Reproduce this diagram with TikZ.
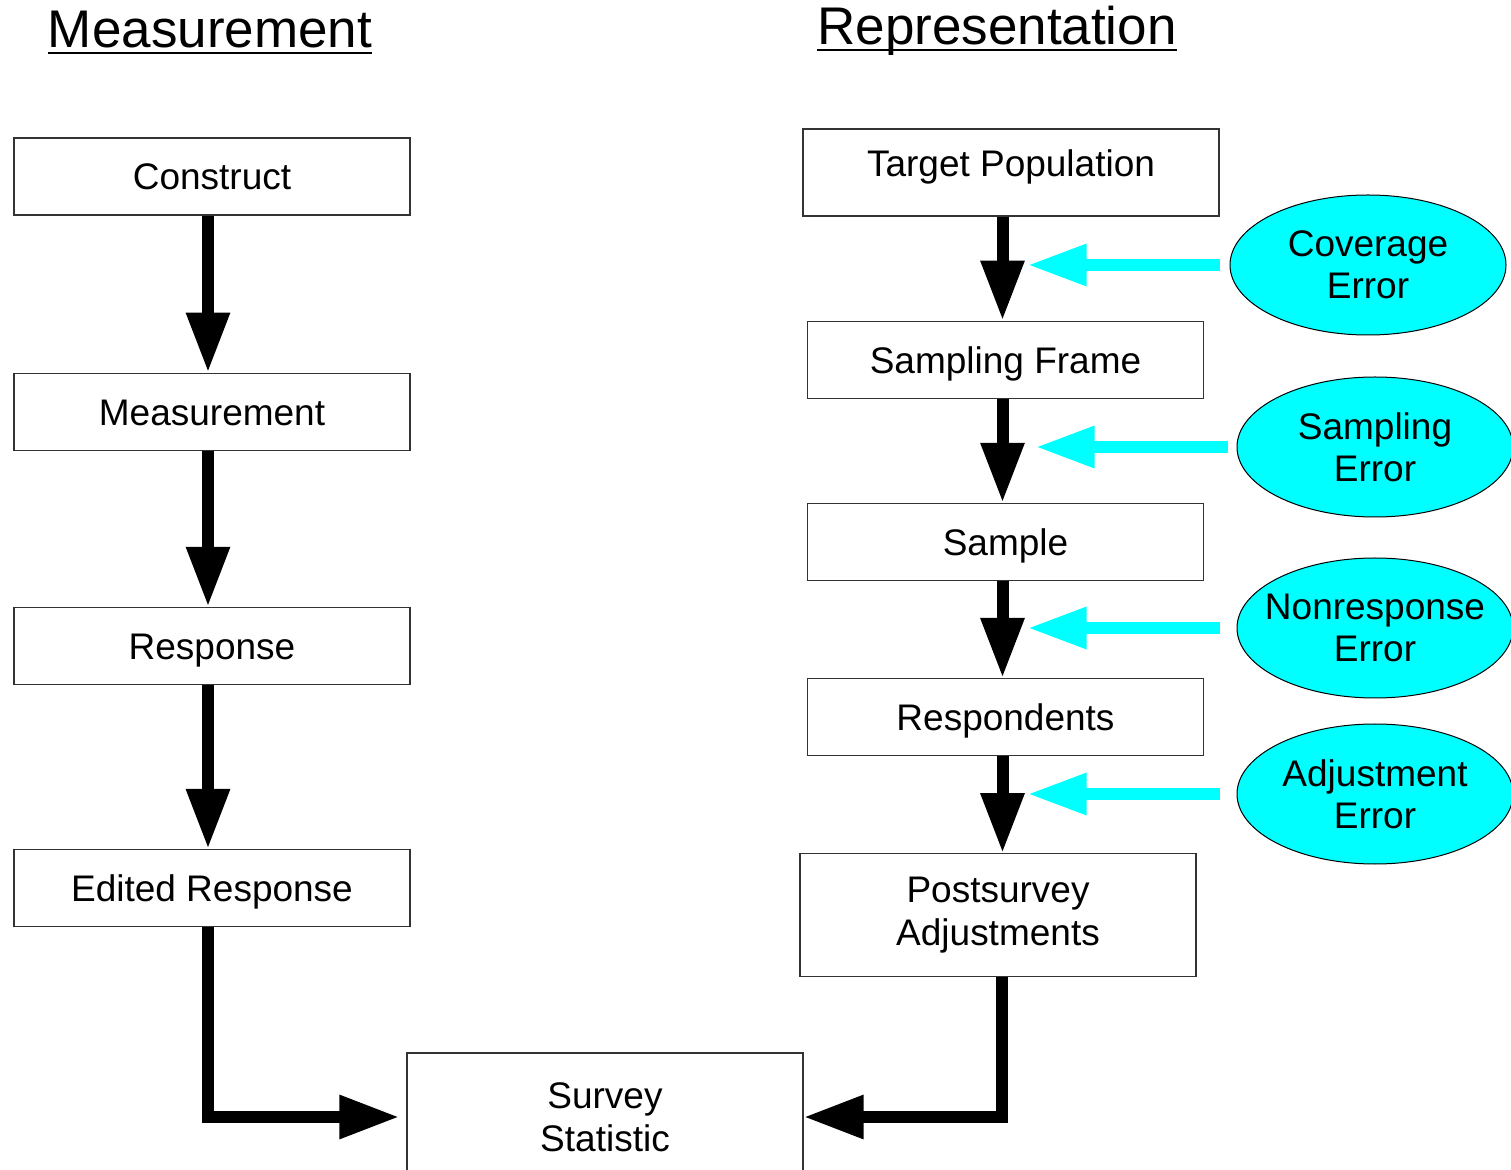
\documentclass[tikz,border=0pt]{standalone}
\usepackage{fontspec}
\setmainfont{Liberation Sans}
\usetikzlibrary{arrows.meta,shapes.geometric,positioning}
\definecolor{errcyan}{RGB}{0,255,255}
\newcommand\titleul[1]{\setbox0\hbox{#1}\rlap{\rule[-3.2pt]{\wd0}{1.3pt}}\box0}

\begin{document}
\begin{tikzpicture}[x=0.5pt,
            y=-0.5pt,
            box/.style={draw=black!80, line width=0.6pt, minimum width=198pt,
                        minimum height=38.5pt, inner sep=0pt, align=center,
                        font=\fontsize{18.5}{21.5}\selectfont},
            oneline/.style={text height=13.5pt, text depth=0pt},
            err/.style={ellipse, draw, line width=0.5pt, fill=errcyan,
                        inner xsep=-15pt, inner ysep=0pt,
                        minimum width=138pt, minimum height=70pt, align=center,
                        font=\fontsize{18.5}{21}\selectfont},
            flow/.style={line width=6pt, -{Triangle[length=30pt,width=20.5pt]}},
            errflow/.style={errcyan, line width=6pt, -{Triangle[length=29.5pt,width=19.5pt]}},
            title/.style={anchor=base, inner sep=0pt, font=\fontsize{26.5}{30}\selectfont}]

        \useasboundingbox (0,0) rectangle (1511,1170);

        % titles
        \node[title] (mtitle) at (210,48) {\titleul{Measurement}};
        \node[title] (rtitle) at (997,45) {\titleul{Representation}};

        % measurement side
        \node[box, oneline] (con) at (212,176.5)       {Construct};
        \node[box, oneline] (mea) [below=78.5pt of con] {Measurement};
        \node[box, oneline] (res) [below=78pt of mea]   {Response};
        \node[box, oneline] (er)  [below=82pt of res]   {Edited Response};

        % representation side
        \node[box, minimum width=208pt, minimum height=43.5pt,
              text height=13.5pt, text depth=9.8pt] (tp) at (1011,172.5) {Target Population};
        \node[box, oneline] (fr)   [below=52pt of tp, xshift=-2.75pt]  {Sampling Frame};
        \node[box, oneline] (smp)  [below=52pt of fr]                  {Sample};
        \node[box, oneline] (resp) [below=48.5pt of smp]               {Respondents};
        \node[box, minimum height=61.5pt] (pa) [below=48.5pt of resp, xshift=-3.75pt] {Postsurvey\\Adjustments};

        \node[box, minimum height=64pt] (ss) at (605,1117) {Survey\\Statistic};

        % error sources
        \node[err] (cov) at (1368,265) {Coverage\\Error};
        \node[err] (sam) at (1375,447) {Sampling\\Error};
        \node[err] (non) at (1375,628) {Nonresponse\\Error};
        \node[err] (adj) at (1375,794) {Adjustment\\Error};

        \draw[flow] ([xshift=-2pt]con.south) -- ([xshift=-2pt]mea.north);
        \draw[flow] ([xshift=-2pt]mea.south) -- ([xshift=-2pt]res.north);
        \draw[flow] ([xshift=-2pt]res.south) -- ([xshift=-2pt]er.north);
        \draw[flow] ([xshift=-2pt]er.south) |- ([xshift=-3.5pt]ss.west);

        \draw[flow] ([xshift=-1.5pt]tp.south -| fr.north) -- ([xshift=-1.5pt]fr.north);
        \draw[flow] ([xshift=-1.5pt]fr.south) -- ([xshift=-1.5pt]smp.north);
        \draw[flow] ([xshift=-1.5pt]smp.south) -- ([xshift=-1.5pt]resp.north);
        \draw[flow] ([xshift=-1.5pt]resp.south) -- ([xshift=-1.5pt]resp.south |- pa.north);
        \draw[flow] ([xshift=2pt]pa.south) |- (ss.east);

        \draw[errflow] ([xshift=-5pt]cov.west) -- ([xshift=11pt]cov.west -| fr.north);
        \draw[errflow] ([xshift=-4.5pt]sam.west) -- ([xshift=15pt]sam.west -| fr.north);
        \draw[errflow] ([xshift=-8.5pt]non.west) -- ([xshift=11pt]non.west -| fr.north);
        \draw[errflow] ([xshift=-8.5pt]adj.west) -- ([xshift=11pt]adj.west -| fr.north);

\end{tikzpicture}
\end{document}
